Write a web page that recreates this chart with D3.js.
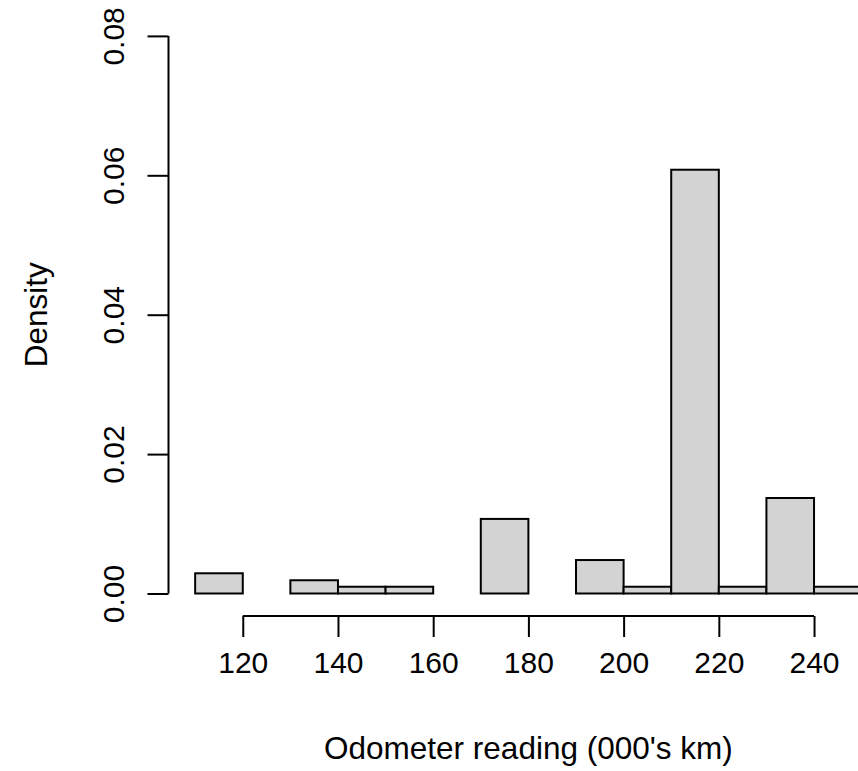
<!DOCTYPE html>
<html>
<head>
<meta charset="utf-8">
<script src="https://cdn.jsdelivr.net/npm/d3@7"></script>
<style>
  body { margin: 0; background: #fff; }
  text { font-family: "Liberation Sans", Arial, sans-serif; fill: #000; }
</style>
</head>
<body>
<script>
const width = 858;
const height = 771;

// histogram bins (lower edges, width 10) and densities
const breaks = [110, 120, 130, 140, 150, 160, 170, 180, 190, 200, 210, 220, 230, 240, 250];
const density = [0.0029, 0, 0.0019, 0.00097, 0.00097, 0, 0.0107, 0, 0.0048, 0.00097, 0.0608, 0.00097, 0.0137, 0.00097];

const xTicks = [120, 140, 160, 180, 200, 220, 240];
const yTicks = [0, 0.02, 0.04, 0.06, 0.08];
const yTickLabels = ["0.00", "0.02", "0.04", "0.06", "0.08"];

const xTitle = "Odometer reading (000's km)";
const yTitle = "Density";

// R style plot region: data range padded by 4%
const xScale = d3.scaleLinear()
    .domain([104.4, 255.6])
    .range([168.5, 888.3]);
const yScale = d3.scaleLinear()
    .domain([-0.0032, 0.0832])
    .range([615.8, 13.6]);

const svg = d3.select("body")
    .append("svg")
    .attr("width", width)
    .attr("height", height);

// bars
const bins = density.map((d, i) => ({x0: breaks[i], x1: breaks[i + 1], y: d}));

svg.selectAll(".bar")
    .data(bins)
    .enter()
    .append("rect")
    .attr("class", "bar")
    .attr("x", d => xScale(d.x0))
    .attr("y", d => yScale(d.y))
    .attr("width", d => xScale(d.x1) - xScale(d.x0))
    .attr("height", d => yScale(0) - yScale(d.y))
    .attr("fill", "#d3d3d3")
    .attr("stroke", "#000")
    .attr("stroke-width", 2);

// x axis
const xAxis = svg.append("g")
    .attr("transform", "translate(0," + 616 + ")")
    .call(d3.axisBottom(xScale).tickValues(xTicks).tickSize(21).tickSizeOuter(0).tickPadding(15));
xAxis.select(".domain").remove();
xAxis.append("line")
    .attr("x1", xScale(xTicks[0]))
    .attr("x2", xScale(xTicks[xTicks.length - 1]))
    .attr("stroke", "#000")
    .attr("stroke-width", 2);
xAxis.selectAll(".tick line").attr("stroke", "#000").attr("stroke-width", 2);
xAxis.selectAll(".tick text")
    .style("font-size", "30px")
    .attr("fill", "#000");

// y axis
const yAxis = svg.append("g")
    .attr("transform", "translate(" + 168.5 + ",0)")
    .call(d3.axisLeft(yScale).tickValues(yTicks).tickSize(21).tickSizeOuter(0)
        .tickFormat((d, i) => yTickLabels[i]));
yAxis.select(".domain").remove();
yAxis.append("line")
    .attr("y1", yScale(yTicks[0]))
    .attr("y2", yScale(yTicks[yTicks.length - 1]))
    .attr("stroke", "#000")
    .attr("stroke-width", 2);
yAxis.selectAll(".tick line").attr("stroke", "#000").attr("stroke-width", 2);
yAxis.selectAll(".tick text")
    .style("font-size", "30px")
    .attr("fill", "#000")
    .attr("x", null)
    .attr("dy", null)
    .attr("text-anchor", "middle")
    .attr("transform", "translate(-45,0) rotate(-90)");

// axis titles
svg.append("text")
    .attr("x", (xScale.range()[0] + xScale.range()[1]) / 2)
    .attr("y", 759)
    .attr("text-anchor", "middle")
    .style("font-size", "31.5px")
    .text(xTitle);

svg.append("text")
    .attr("transform", "translate(47," + (yScale.range()[0] + yScale.range()[1]) / 2 + ") rotate(-90)")
    .attr("text-anchor", "middle")
    .style("font-size", "31.5px")
    .text(yTitle);
</script>
</body>
</html>
